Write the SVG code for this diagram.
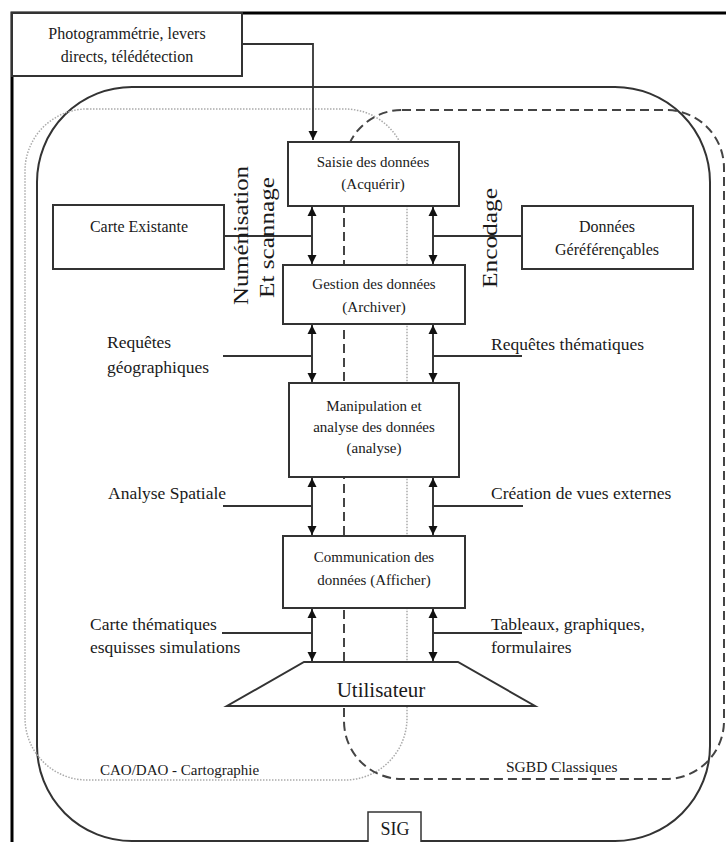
<svg xmlns="http://www.w3.org/2000/svg" width="726" height="842" viewBox="0 0 726 842">
<style>
text{font-family:"Liberation Serif","Times New Roman",serif;fill:#1a1a1a}
.box{fill:#fff;stroke:#333;stroke-width:2}
.t15{font-size:15px;text-anchor:middle}
.t16{font-size:16px;text-anchor:middle}
.lab{font-size:17.5px}
.ln{stroke:#333;stroke-width:2;fill:none}
.arr{stroke:#222;stroke-width:1.8;fill:none;marker-start:url(#ah);marker-end:url(#ah)}
</style>
<defs>
<marker id="ah" viewBox="0 0 10 10" refX="10" refY="5" markerUnits="userSpaceOnUse" markerWidth="9" markerHeight="11" orient="auto-start-reverse">
<path d="M0,0 L10,5 L0,10 z" fill="#111"/>
</marker>
</defs>
<g id="frame">
<path d="M12,842 V13 H726" fill="none" stroke="#000" stroke-width="3"/>
</g>
<g id="regions">
<rect id="sig-region" x="37" y="87" width="673" height="754" rx="95" ry="95" fill="none" stroke="#333" stroke-width="2"/>
<rect id="cao-region" x="25" y="109" width="382" height="671" rx="62" ry="62" fill="none" stroke="#aaa" stroke-width="1.5" stroke-dasharray="1.5 1.5"/>
<rect id="sgbd-region" x="344" y="110" width="380" height="669" rx="58" ry="58" fill="none" stroke="#444" stroke-width="2" stroke-dasharray="9 5"/>
</g>
<g id="connectors">
<path class="ln" d="M242,44 H313 V140" marker-end="url(#ah)" style="stroke-width:1.8"/>
<line class="arr" x1="312" y1="207" x2="312" y2="264"/>
<line class="arr" x1="433" y1="207" x2="433" y2="264"/>
<line class="ln" x1="224" y1="236" x2="312" y2="236"/>
<line class="ln" x1="433" y1="236" x2="522" y2="236"/>
<line class="arr" x1="312" y1="325" x2="312" y2="382"/>
<line class="arr" x1="433" y1="325" x2="433" y2="382"/>
<line class="ln" x1="223" y1="356" x2="312" y2="356"/>
<line class="ln" x1="433" y1="356" x2="522" y2="356"/>
<line class="arr" x1="312" y1="478" x2="312" y2="535"/>
<line class="arr" x1="433" y1="478" x2="433" y2="535"/>
<line class="ln" x1="223" y1="506" x2="312" y2="506"/>
<line class="ln" x1="433" y1="506" x2="523" y2="506"/>
<line class="arr" x1="312" y1="609" x2="312" y2="661"/>
<line class="arr" x1="433" y1="609" x2="433" y2="661"/>
<line class="ln" x1="222" y1="633" x2="312" y2="633"/>
<line class="ln" x1="433" y1="633" x2="522" y2="633"/>
</g>
<g id="source">
<rect class="box" x="12" y="13" width="230" height="63"/>
<text class="t16" x="127" y="39">Photogrammétrie, levers</text>
<text class="t16" x="127" y="62">directs, télédétection</text>
</g>
<g id="saisie">
<rect class="box" x="288" y="142" width="171" height="64"/>
<text class="t15" x="373" y="167">Saisie des données</text>
<text class="t15" x="373" y="189">(Acquérir)</text>
</g>
<g id="gestion">
<rect class="box" x="283" y="265" width="182" height="59"/>
<text class="t15" x="374" y="289">Gestion des données</text>
<text class="t15" x="374" y="312">(Archiver)</text>
</g>
<g id="manipulation">
<rect class="box" x="289" y="383" width="170" height="94"/>
<text class="t15" x="374" y="411">Manipulation et</text>
<text class="t15" x="374" y="432">analyse des données</text>
<text class="t15" x="374" y="453">(analyse)</text>
</g>
<g id="communication">
<rect class="box" x="283" y="536" width="182" height="72"/>
<text class="t15" x="374" y="562">Communication des</text>
<text class="t15" x="374" y="585">données (Afficher)</text>
</g>
<g id="utilisateur">
<polygon class="box" points="304,662 458,662 535,706 227,706"/>
<text x="381" y="697" style="font-size:21px;text-anchor:middle">Utilisateur</text>
</g>
<g id="carte-existante">
<rect class="box" x="53" y="205" width="171" height="64"/>
<text class="t16" x="139" y="232">Carte Existante</text>
</g>
<g id="donnees-geo">
<rect class="box" x="522" y="206" width="171" height="63"/>
<text class="t16" x="607" y="232">Données</text>
<text class="t16" x="607" y="255">Géréférençables</text>
</g>
<g id="labels">
<text x="248" y="305" transform="rotate(-90 248 305)" style="font-size:21px" textLength="139" lengthAdjust="spacingAndGlyphs">Numénisation</text>
<text x="274" y="298" transform="rotate(-90 274 298)" style="font-size:21px" textLength="121" lengthAdjust="spacingAndGlyphs">Et scannage</text>
<text x="497" y="288" transform="rotate(-90 497 288)" style="font-size:21px" textLength="100" lengthAdjust="spacingAndGlyphs">Encodage</text>
<text class="lab" x="107" y="348">Requêtes</text>
<text class="lab" x="107" y="373">géographiques</text>
<text class="lab" x="491" y="350">Requêtes thématiques</text>
<text class="lab" x="108" y="499">Analyse Spatiale</text>
<text class="lab" x="491" y="499">Création de vues externes</text>
<text class="lab" x="90" y="630">Carte thématiques</text>
<text class="lab" x="90" y="653">esquisses simulations</text>
<text class="lab" x="491" y="630">Tableaux, graphiques,</text>
<text class="lab" x="491" y="653">formulaires</text>
<text x="100" y="775" style="font-size:15px">CAO/DAO - Cartographie</text>
<text x="506" y="772" style="font-size:15.5px">SGBD Classiques</text>
</g>
<g id="sig">
<rect class="box" x="368" y="812" width="53" height="36" style="stroke-width:1.5"/>
<text x="395" y="835" style="font-size:18px;text-anchor:middle">SIG</text>
</g>
</svg>
